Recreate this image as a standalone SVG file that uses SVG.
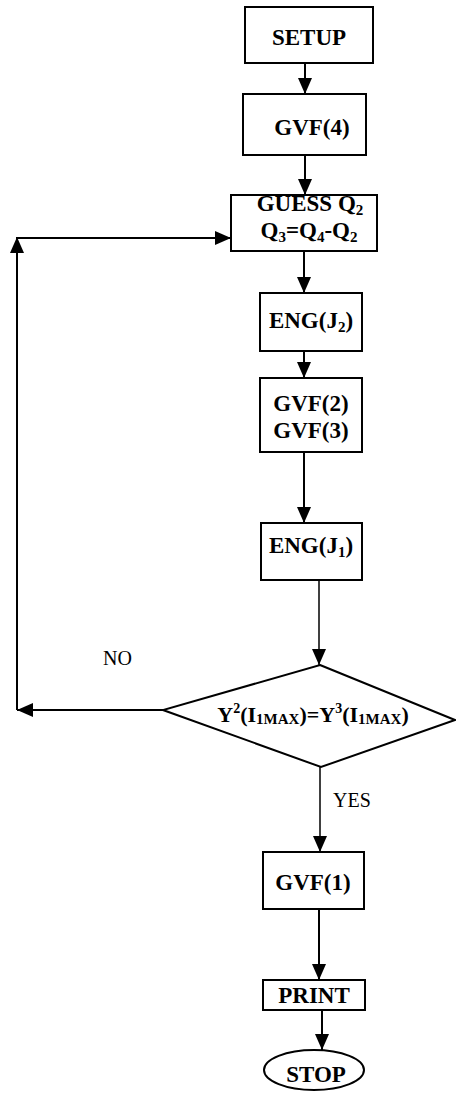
<svg xmlns="http://www.w3.org/2000/svg" width="456" height="1093" viewBox="0 0 456 1093">
<style>
.box{fill:#fff;stroke:#000;stroke-width:2}
.t{font-family:"Liberation Serif","Times New Roman",serif;font-weight:bold;font-size:23px;fill:#000;text-anchor:middle}
.cond{font-family:"Liberation Serif","Times New Roman",serif;font-weight:bold;font-size:22px;fill:#000;text-anchor:middle}
.lbl{font-family:"Liberation Serif","Times New Roman",serif;font-size:20px;fill:#000}
.c{fill:none;stroke:#000;stroke-width:2}
.thin{fill:none;stroke:#000;stroke-width:1.5}
</style>
<defs>
<marker id="ah" markerUnits="userSpaceOnUse" markerWidth="16" markerHeight="14" refX="16" refY="7" orient="auto">
<path d="M0,0 L16,7 L0,14 z" fill="#000"/>
</marker>
</defs>
<rect width="456" height="1093" fill="#fff"/>
<g id="connectors">
<path class="c" d="M305,63 V94" marker-end="url(#ah)"/>
<path class="c" d="M305,155 V195" marker-end="url(#ah)"/>
<path class="c" d="M304,251 V293" marker-end="url(#ah)"/>
<path class="c" d="M304,351 V378" marker-end="url(#ah)"/>
<path class="c" d="M304,452 V523" marker-end="url(#ah)"/>
<path class="thin" d="M319,580 V665" marker-end="url(#ah)"/>
<path class="c" d="M163,710 H17" marker-end="url(#ah)"/>
<path class="c" d="M17,710 V237" marker-end="url(#ah)"/>
<path class="c" d="M16,238 H231" marker-end="url(#ah)"/>
<path class="thin" d="M320,767 V852" marker-end="url(#ah)"/>
<path class="c" d="M319,909 V980" marker-end="url(#ah)"/>
<path class="c" d="M322,1010 V1050" marker-end="url(#ah)"/>
<text class="lbl" x="103" y="665">NO</text>
<text class="lbl" x="333" y="807">YES</text>
</g>
<g id="setup">
<rect class="box" x="245" y="7" width="128" height="56"/>
<text class="t" x="309" y="45">SETUP</text>
</g>
<g id="gvf4">
<rect class="box" x="243" y="94" width="123" height="61"/>
<text class="t" x="312" y="135">GVF(4)</text>
</g>
<g id="guess">
<rect class="box" x="231" y="195" width="146" height="56"/>
<text class="t" x="310" y="211">GUESS Q<tspan font-size="15" dy="4">2</tspan></text>
<text class="t" x="309" y="238">Q<tspan font-size="15" dy="4">3</tspan><tspan dy="-4">=Q</tspan><tspan font-size="15" dy="4">4</tspan><tspan dy="-4">-Q</tspan><tspan font-size="15" dy="4">2</tspan></text>
</g>
<g id="engj2">
<rect class="box" x="260" y="293" width="102" height="58"/>
<text class="t" x="311" y="328">ENG(J<tspan font-size="15" dy="4">2</tspan><tspan dy="-4">)</tspan></text>
</g>
<g id="gvf23">
<rect class="box" x="260" y="378" width="102" height="74"/>
<text class="t" x="311" y="411">GVF(2)</text>
<text class="t" x="311" y="438">GVF(3)</text>
</g>
<g id="engj1">
<rect class="box" x="261" y="523" width="101" height="57"/>
<text class="t" x="311" y="553">ENG(J<tspan font-size="15" dy="4">1</tspan><tspan dy="-4">)</tspan></text>
</g>
<g id="decision">
<polygon class="box" points="320,665 455,720 321,767 163,710"/>
<text class="cond" x="313" y="722">Y<tspan font-size="14" dy="-9">2</tspan><tspan dy="9">(I</tspan><tspan font-size="15" dy="2">1MAX</tspan><tspan dy="-2">)=Y</tspan><tspan font-size="14" dy="-9">3</tspan><tspan dy="9">(I</tspan><tspan font-size="15" dy="2">1MAX</tspan><tspan dy="-2">)</tspan></text>
</g>
<g id="gvf1">
<rect class="box" x="263" y="852" width="101" height="57"/>
<text class="t" x="313" y="890">GVF(1)</text>
</g>
<g id="print">
<rect class="box" x="263" y="980" width="102" height="30"/>
<text class="t" x="314" y="1003">PRINT</text>
</g>
<g id="stop">
<ellipse class="box" cx="314" cy="1070" rx="50" ry="20"/>
<text class="t" x="316" y="1082">STOP</text>
</g>
</svg>
